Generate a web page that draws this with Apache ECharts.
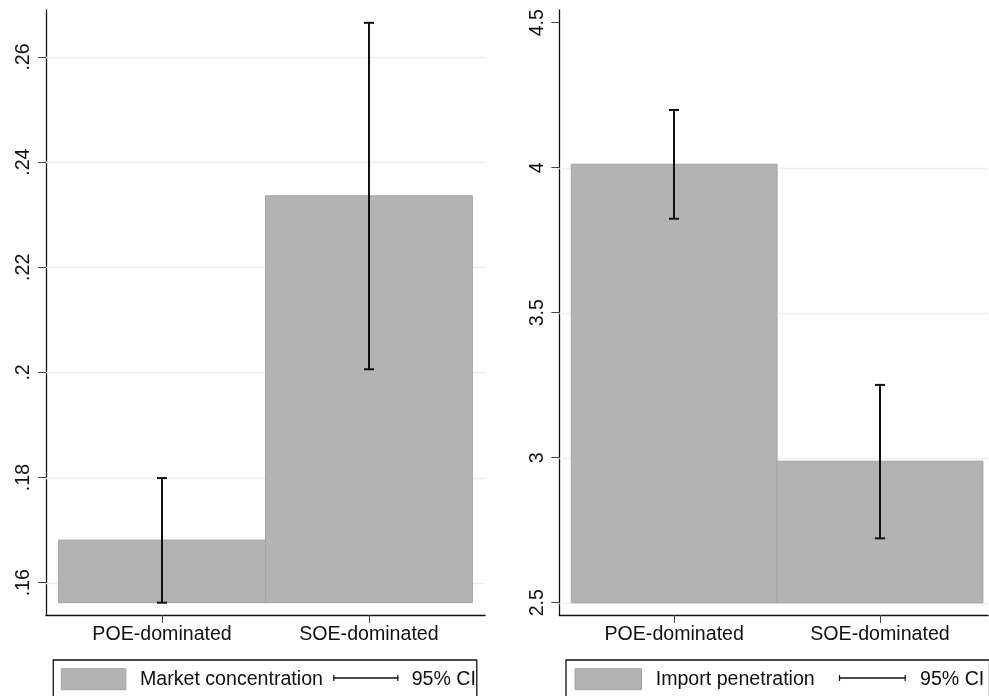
<!DOCTYPE html>
<html>
<head>
<meta charset="utf-8">
<script src="https://cdn.jsdelivr.net/npm/echarts@6/dist/echarts.min.js"></script>
<style>
html,body{margin:0;padding:0;background:#fff;}
#chart{width:989px;height:696px;}
</style>
</head>
<body>
<div id="chart"></div>
<script>
// ---- data ----
const categories = ['POE-dominated', 'SOE-dominated'];

const concName = 'Market concentration';
const concMean = [0.1681, 0.2336];
const concLow  = [0.1562, 0.2006];
const concHigh = [0.1799, 0.2665];
const concBase = 0.1562;
const concTicks = [0.16, 0.18, 0.2, 0.22, 0.24, 0.26];
const concGridlines = [0.16, 0.18, 0.2, 0.22, 0.24, 0.26];

const impName = 'Import penetration';
const impMean = [4.012, 2.988];
const impLow  = [3.824, 2.722];
const impHigh = [4.199, 3.251];
const impBase = 2.5;
const impTicks = [2.5, 3, 3.5, 4, 4.5];
const impGridlines = [2.5, 3, 3.5, 4];

const ciName = '95% CI';

// ---- style ----
const FONT = '"Liberation Sans", Arial, Helvetica, sans-serif';
const FS = 19.6;
const BAR_FILL = '#b3b3b3';
const BAR_EDGE = '#a4a4a4';
const GRID_COLOR = '#e8eef2';
const INK = '#111111';

const chart = echarts.init(document.getElementById('chart'), null, {renderer: 'canvas'});

function catPos(i) { return i + 1; }

function barSeries(gridIdx, means, base) {
  return {
    type: 'custom', xAxisIndex: gridIdx, yAxisIndex: gridIdx, z: 3,
    data: means.map((v, i) => [catPos(i), v]),
    renderItem: function (params, api) {
      const x = api.value(0), v = api.value(1);
      const p0 = api.coord([x - 0.5, v]);
      const p1 = api.coord([x + 0.5, base]);
      return {
        type: 'rect',
        shape: {x: p0[0], y: p0[1], width: p1[0] - p0[0], height: p1[1] - p0[1]},
        style: {fill: BAR_FILL, stroke: BAR_EDGE, lineWidth: 1}
      };
    }
  };
}

function ciSeries(gridIdx, low, high) {
  return {
    type: 'custom', xAxisIndex: gridIdx, yAxisIndex: gridIdx, z: 4,
    data: low.map((l, i) => [catPos(i), l, high[i]]),
    renderItem: function (params, api) {
      const x = api.value(0);
      const pl = api.coord([x, api.value(1)]);
      const ph = api.coord([x, api.value(2)]);
      const cx = Math.round(pl[0]);
      const st = {stroke: INK, lineWidth: 2};
      return {
        type: 'group',
        children: [
          {type: 'line', shape: {x1: cx, y1: pl[1], x2: cx, y2: ph[1]}, style: st},
          {type: 'line', shape: {x1: cx - 5, y1: pl[1], x2: cx + 5, y2: pl[1]}, style: st},
          {type: 'line', shape: {x1: cx - 5, y1: ph[1], x2: cx + 5, y2: ph[1]}, style: st}
        ]
      };
    }
  };
}

function gridlineSeries(gridIdx, values) {
  return {
    type: 'custom', xAxisIndex: gridIdx, yAxisIndex: gridIdx, z: 1, silent: true,
    data: values.map(v => [1, v]),
    renderItem: function (params, api) {
      const y = Math.round(api.coord([1, api.value(1)])[1]) + 0.5;
      const cs = params.coordSys;
      return {
        type: 'line',
        shape: {x1: cs.x, y1: y, x2: cs.x + cs.width, y2: y},
        style: {stroke: GRID_COLOR, lineWidth: 1.5}
      };
    }
  };
}

function xAxisDef(gridIdx, min, max) {
  return {
    type: 'value', gridIndex: gridIdx, min: min, max: max,
    axisLine: {show: true, onZero: false, lineStyle: {color: INK, width: 1.3}},
    axisTick: {show: true, length: 8, customValues: categories.map((c, i) => catPos(i)), lineStyle: {color: '#444', width: 1}},
    axisLabel: {
      customValues: categories.map((c, i) => catPos(i)),
      formatter: v => categories[Math.round(v) - 1] || '',
      fontFamily: FONT, fontSize: FS, color: INK, margin: 10
    },
    splitLine: {show: false}
  };
}

function yAxisDef(gridIdx, min, max, ticks, fmt) {
  return {
    type: 'value', gridIndex: gridIdx, min: min, max: max,
    axisLine: {show: true, onZero: false, lineStyle: {color: INK, width: 1.3}},
    axisTick: {show: true, length: 8, customValues: ticks, lineStyle: {color: '#444', width: 1}},
    axisLabel: {
      customValues: ticks, rotate: 90, formatter: fmt,
      fontFamily: FONT, fontSize: FS, color: INK, margin: 12
    },
    splitLine: {show: false}
  };
}

const concFmt = v => String(+v.toFixed(4)).replace(/^0\./, '.');
const impFmt = v => String(+v.toFixed(4));

// legend graphics (layout constants only)
function legendGroup(boxX, swX, swW, txtX, ciX1, ciX2, ciTxtX, name) {
  return [
    {type: 'rect', shape: {x: boxX, y: 660, width: 423.5, height: 60},
     style: {fill: '#fff', stroke: INK, lineWidth: 1.3}, z: 10},
    {type: 'rect', shape: {x: swX, y: 668.7, width: swW, height: 21},
     style: {fill: BAR_FILL, stroke: BAR_EDGE, lineWidth: 1}, z: 11},
    {type: 'text', x: txtX, y: 679.5, z: 11,
     style: {text: name, font: FS + 'px ' + FONT, fill: INK, verticalAlign: 'middle', align: 'left'}},
    {type: 'line', shape: {x1: ciX1, y1: 678, x2: ciX2, y2: 678}, style: {stroke: INK, lineWidth: 1.5}, z: 11},
    {type: 'line', shape: {x1: ciX1 + 0.5, y1: 675, x2: ciX1 + 0.5, y2: 681}, style: {stroke: INK, lineWidth: 1.2}, z: 11},
    {type: 'line', shape: {x1: ciX2 - 0.5, y1: 675, x2: ciX2 - 0.5, y2: 681}, style: {stroke: INK, lineWidth: 1.2}, z: 11},
    {type: 'text', x: ciTxtX, y: 679.5, z: 11,
     style: {text: ciName, font: FS + 'px ' + FONT, fill: INK, verticalAlign: 'middle', align: 'left'}}
  ];
}

const option = {
  backgroundColor: '#ffffff',
  animation: false,
  grid: [
    {left: 46, top: 10, width: 439, height: 605},
    {left: 559.3, top: 10, width: 428.7, height: 605}
  ],
  xAxis: [
    xAxisDef(0, 0.439, 2.561),
    xAxisDef(1, 0.4417, 2.5248)
  ],
  yAxis: [
    yAxisDef(0, 0.153856, 0.26894, concTicks, concFmt),
    yAxisDef(1, 2.4576, 4.5438, impTicks, impFmt)
  ],
  series: [
    gridlineSeries(0, concGridlines),
    barSeries(0, concMean, concBase),
    ciSeries(0, concLow, concHigh),
    gridlineSeries(1, impGridlines),
    barSeries(1, impMean, impBase),
    ciSeries(1, impLow, impHigh)
  ],
  graphic: [
    ...legendGroup(53.3, 61.3, 64.5, 140, 333.3, 398.3, 411.7, concName),
    ...legendGroup(566, 575, 66.5, 655.7, 839, 905.7, 920, impName)
  ]
};

chart.setOption(option);
</script>
</body>
</html>
